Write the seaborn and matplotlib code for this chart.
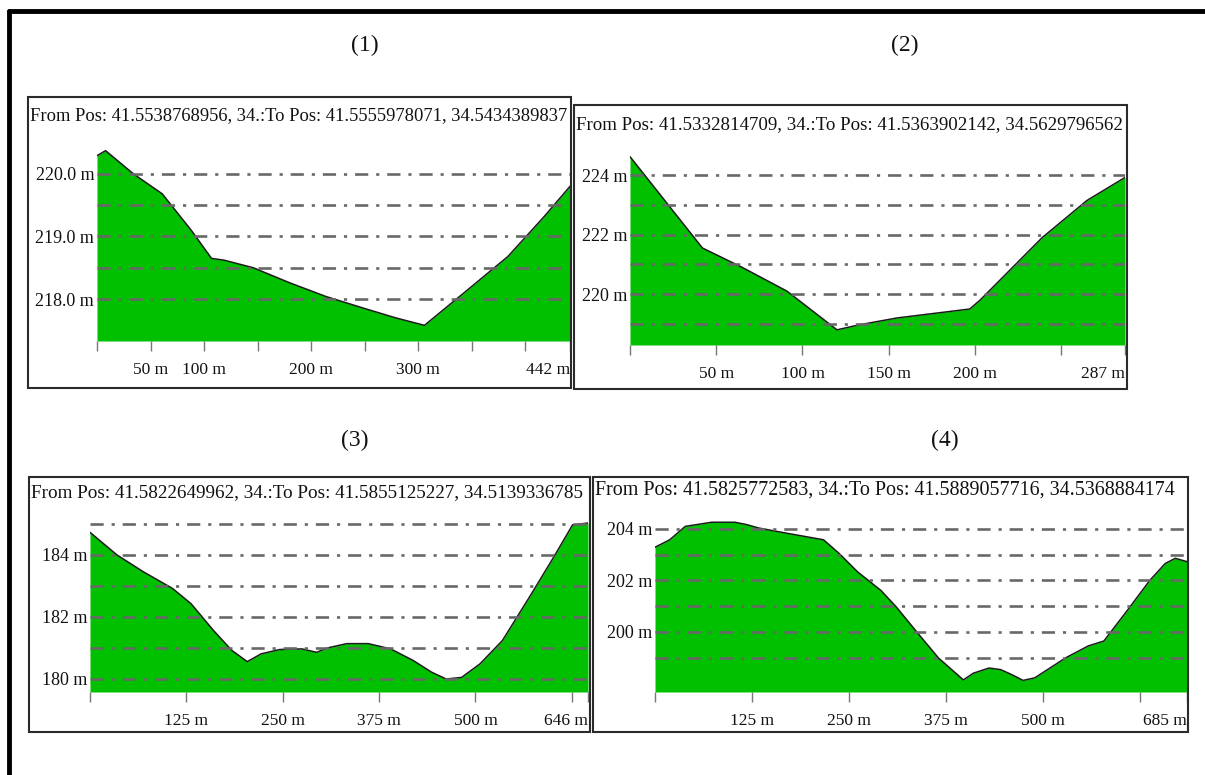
import pandas as pd
import matplotlib.pyplot as plt
import seaborn as sns
from matplotlib.patches import Rectangle
from matplotlib.lines import Line2D

sns.set_theme(style='white')
plt.rcParams['font.family'] = ['Liberation Serif', 'DejaVu Serif']

# elevation profiles: distance (m) / elevation (m)
dist1 = [0, 8, 34, 61, 88, 107, 119, 146, 180, 214, 248, 279, 306, 343, 384, 418, 442]
elev1 = [220.29, 220.37, 220.0, 219.68, 219.1, 218.65, 218.62, 218.5, 218.26, 218.04,
         217.86, 217.7, 217.58, 218.1, 218.68, 219.32, 219.8]

dist2 = [0, 42, 65, 91, 120, 133, 155, 197, 203, 239, 265, 287]
elev2 = [224.62, 221.55, 220.9, 220.1, 218.8, 218.97, 219.2, 219.5, 219.8, 221.9, 223.15, 223.92]

dist3 = [0, 35, 69, 107, 131, 160, 184, 204, 222, 246, 275, 294, 308, 333, 361, 390, 419,
         443, 462, 482, 506, 535, 573, 602, 626, 646]
elev3 = [184.73, 184.0, 183.46, 182.92, 182.43, 181.57, 180.92, 180.56, 180.81, 180.95,
         180.97, 180.86, 181.0, 181.14, 181.14, 180.97, 180.6, 180.22, 180.0, 180.05,
         180.49, 181.24, 182.76, 183.95, 184.97, 185.03]

dist4 = [0, 19, 39, 73, 103, 118, 133, 163, 217, 237, 261, 291, 311, 336, 365, 397, 410,
         430, 445, 459, 474, 489, 529, 558, 578, 608, 637, 657, 670, 685]
elev4 = [203.29, 203.58, 204.1, 204.26, 204.26, 204.17, 204.04, 203.87, 203.58, 203.05,
         202.33, 201.61, 200.96, 200.04, 198.99, 198.14, 198.4, 198.6, 198.54, 198.35,
         198.12, 198.22, 199.0, 199.46, 199.65, 200.83, 202.0, 202.66, 202.86, 202.73]

headers = ["From Pos: 41.5538768956, 34.:To Pos: 41.5555978071, 34.5434389837",
           "From Pos: 41.5332814709, 34.:To Pos: 41.5363902142, 34.5629796562",
           "From Pos: 41.5822649962, 34.:To Pos: 41.5855125227, 34.5139336785",
           "From Pos: 41.5825772583, 34.:To Pos: 41.5889057716, 34.5368884174"]
panel_names = ['(1)', '(2)', '(3)', '(4)']

xticks = [[0, 50, 100, 150, 200, 250, 300, 350, 400, 442],
          [0, 50, 100, 150, 200, 250, 287],
          [0, 125, 250, 375, 500, 625, 646],
          [0, 125, 250, 375, 500, 625, 685]]
xlabels = [['', '50 m', '100 m', '', '200 m', '', '300 m', '', '', '442 m'],
           ['', '50 m', '100 m', '150 m', '200 m', '', '287 m'],
           ['', '125 m', '250 m', '375 m', '500 m', '', '646 m'],
           ['', '125 m', '250 m', '375 m', '500 m', '', '685 m']]
yticks = [[218, 219, 220], [220, 222, 224], [180, 182, 184], [200, 202, 204]]
ylabels = [['218.0 m', '219.0 m', '220.0 m'], ['220 m', '222 m', '224 m'],
           ['180 m', '182 m', '184 m'], ['200 m', '202 m', '204 m']]
grids = [[218, 218.5, 219, 219.5, 220], [219, 220, 221, 222, 223, 224],
         [180, 181, 182, 183, 184, 185], [199, 200, 201, 202, 203, 204]]

W, H = 1205, 775
fig = plt.figure(figsize=(W / 100, H / 100), dpi=100)

# layout in pixels: panel box, plot area, y-limits, header pos/size, name pos
panels = [
    dict(box=(28, 97, 571, 388), area=(97, 130, 570, 341), ylim=(217.33, 220.70),
         head=(30, 116), hsize=13.3, name=(365, 45)),
    dict(box=(574, 105, 1127, 389), area=(630, 140, 1125, 345), ylim=(218.29, 225.18),
         head=(576, 125), hsize=13.6, name=(905, 45)),
    dict(box=(29, 477, 590, 732), area=(90, 510, 588, 692), ylim=(179.58, 185.45),
         head=(31, 493), hsize=13.8, name=(355, 440)),
    dict(box=(593, 477, 1188, 732), area=(655, 505, 1187, 692), ylim=(197.67, 204.93),
         head=(595, 490), hsize=14.4, name=(945, 440)),
]
profiles = [(dist1, elev1), (dist2, elev2), (dist3, elev3), (dist4, elev4)]

# outer frame (left + top only)
fig.add_artist(Line2D([9 / W, 9 / W], [0, 1 - 11 / H], color='black', lw=3.5))
fig.add_artist(Line2D([9 / W, 1], [1 - 11 / H, 1 - 11 / H], color='black', lw=3.5))

for i, p in enumerate(panels):
    bx0, by0, bx1, by1 = p['box']
    fig.add_artist(Rectangle((bx0 / W, 1 - by1 / H), (bx1 - bx0) / W, (by1 - by0) / H,
                             fill=False, edgecolor='#2b2b2b', lw=1.5))
    fig.text(p['head'][0] / W, 1 - p['head'][1] / H, headers[i], fontsize=p['hsize'],
             ha='left', va='center', color='#111111')
    fig.text(p['name'][0] / W, 1 - p['name'][1] / H, panel_names[i], fontsize=17,
             ha='center', va='center', color='#111111')

    x0, y0, x1, y1 = p['area']
    ax = fig.add_axes([x0 / W, 1 - y1 / H, (x1 - x0) / W, (y1 - y0) / H])
    df = pd.DataFrame({'dist': profiles[i][0], 'elev': profiles[i][1]})
    ymin, ymax = p['ylim']
    ax.fill_between(df['dist'], df['elev'], ymin, color='#00c000', lw=0, zorder=1)
    sns.lineplot(data=df, x='dist', y='elev', color='#1a1a1a', lw=1.1, ax=ax, zorder=2)
    for g in grids[i]:
        ax.axhline(g, color='#686868', lw=1.9, ls=(0, (5, 3, 1.2, 3)), zorder=3)

    ax.set_xlim(0, df['dist'].max())
    ax.set_ylim(ymin, ymax)
    ax.set_xlabel('')
    ax.set_ylabel('')
    for s in ax.spines.values():
        s.set_visible(False)
    ax.patch.set_alpha(0)

    ax.set_xticks(xticks[i])
    ax.set_xticklabels(xlabels[i], fontsize=12.5)
    ax.set_yticks(yticks[i])
    ax.set_yticklabels(ylabels[i], fontsize=13)
    ax.tick_params(axis='x', bottom=True, length=7, width=1, color='#777777', pad=8,
                   labelcolor='#111111')
    ax.tick_params(axis='y', left=False, length=0, pad=2, labelcolor='#111111')
    ax.get_xticklabels()[-1].set_ha('right')

fig.savefig('out.png', dpi=100)
